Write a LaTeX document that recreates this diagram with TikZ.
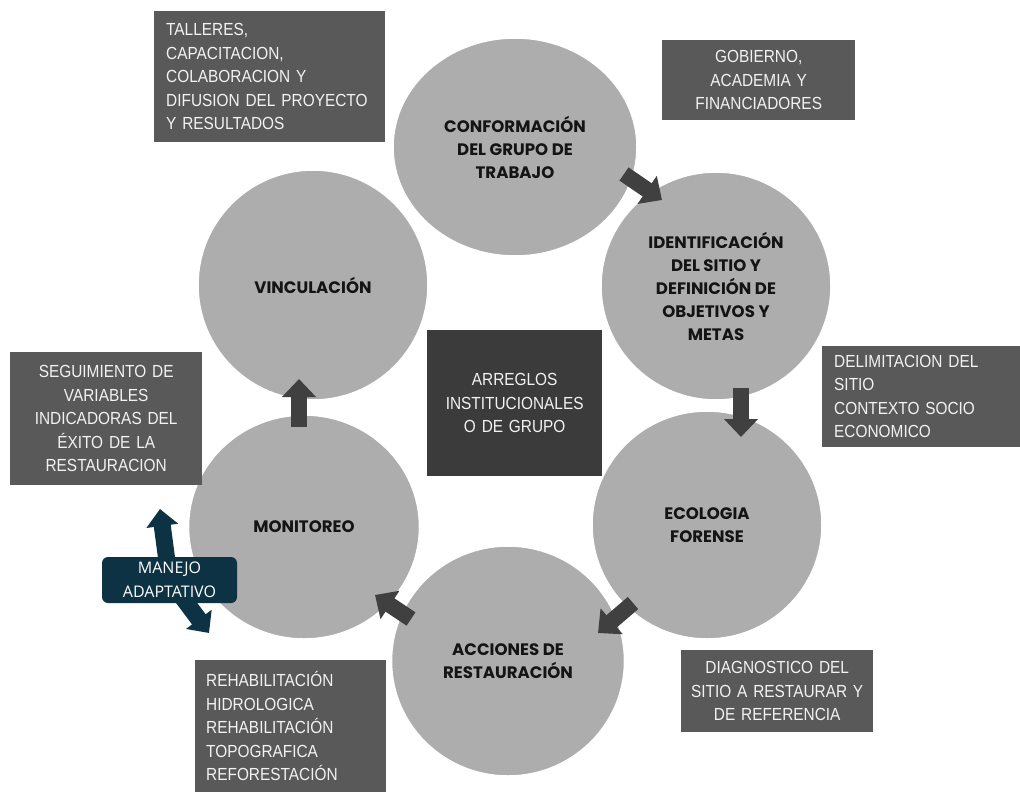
\documentclass[tikz,border=0pt]{standalone}
\usepackage{fontspec}
\setmainfont{Liberation Sans}[FakeStretch=0.88, WordSpace=0.7]
\newfontfamily\stagefont{Poppins}
\newfontfamily\adaptfont{Open Sans}
\usetikzlibrary{arrows.meta,shapes.geometric}

\definecolor{stagegray}{HTML}{ADADAD}
\definecolor{boxgray}{HTML}{595959}
\definecolor{coregray}{HTML}{3B3B3B}
\definecolor{flowgray}{HTML}{404040}
\definecolor{adaptteal}{HTML}{0D3243}
\definecolor{boxtext}{HTML}{F2F2F2}
\definecolor{stagetext}{HTML}{141414}

\tikzset{
  stage/.style={ellipse, fill=stagegray, draw=white, line width=1.5pt,
    inner sep=0pt, align=center, text=stagetext,
    font=\stagefont\bfseries\fontsize{16.6}{23}\selectfont},
  infobox/.style={rectangle, fill=boxgray, text=boxtext, inner ysep=0pt,
    font=\fontsize{17.5}{23.5}\selectfont},
  leftbox/.style={infobox, align=left, inner xsep=12pt},
  midbox/.style={infobox, align=center, inner xsep=4pt},
  flow/.style={draw=flowgray, line width=16pt,
    -{Triangle[width=33pt,length=18pt]}},
  adaptflow/.style={draw=adaptteal, line width=17pt,
    -{Triangle[width=31pt,length=17pt]}},
}

\begin{document}
\begin{tikzpicture}[x=1pt,y=-1pt]
\path[use as bounding box] (0,0) rectangle (1020,792);

% stages of the cycle
\node[stage, minimum width=244pt, minimum height=218pt] (c1) at (515,147)
  {CONFORMACIÓN\\DEL GRUPO DE\\TRABAJO};
\node[stage, minimum width=230pt, minimum height=228pt] (c2) at (716,286)
  {IDENTIFICACIÓN\\DEL SITIO Y\\DEFINICIÓN DE\\OBJETIVOS Y\\METAS};
\node[stage, minimum width=230pt, minimum height=228pt] (c3) at (707,525)
  {ECOLOGIA\\FORENSE};
\node[stage, minimum width=233pt, minimum height=230pt] (c4) at (508,661)
  {ACCIONES DE\\RESTAURACIÓN};
\node[stage, minimum width=231pt, minimum height=224pt] (c5) at (304,527)
  {MONITOREO};
\node[stage, minimum width=230pt, minimum height=230pt] (c6) at (313,285)
  {VINCULACIÓN};

% ends of the block arrows between stages
\coordinate (f12a) at (624,174); \coordinate (f12b) at (662,200);
\coordinate (f23a) at (741,388); \coordinate (f23b) at (741,437);
\coordinate (f34a) at (633,603); \coordinate (f34b) at (598,633);
\coordinate (f45a) at (411,619); \coordinate (f45b) at (375,595);
\coordinate (f56a) at (299,427); \coordinate (f56b) at (299,379);

\draw[flow] (f12a) -- (f12b);
\draw[flow] (f23a) -- (f23b);
\draw[flow] (f34a) -- (f34b);
\draw[flow] (f45a) -- (f45b);
\draw[flow] (f56a) -- (f56b);

% adaptive management arrows, behind their label
\coordinate (adaptmid) at (169.5,580);
\coordinate (adaptup) at (160,509);
\coordinate (adaptdown) at (209,633);
\draw[adaptflow] (adaptmid) -- (adaptup);
\draw[adaptflow] (adaptmid) -- (adaptdown);

% description boxes
\node[leftbox, text width=207pt, minimum height=131pt, anchor=north west]
  (talleres) at (154,11)
  {TALLERES,\\CAPACITACION,\\COLABORACION Y\\DIFUSION DEL PROYECTO\\Y RESULTADOS};
\node[midbox, text width=185pt, minimum height=80pt, anchor=north west]
  (gobierno) at (662,40)
  {GOBIERNO,\\ACADEMIA Y\\FINANCIADORES};
\node[midbox, fill=coregray, text width=167pt, minimum height=146pt, anchor=north west]
  (arreglos) at (427,330)
  {ARREGLOS\\INSTITUCIONALES\\O DE GRUPO};
\node[leftbox, text width=174pt, minimum height=101pt, anchor=north west]
  (delimitacion) at (822,346)
  {DELIMITACION DEL\\SITIO\\CONTEXTO SOCIO\\ECONOMICO};
\node[midbox, text width=184pt, minimum height=133pt, anchor=north west]
  (seguimiento) at (10,352)
  {SEGUIMIENTO DE\\VARIABLES\\INDICADORAS DEL\\ÉXITO DE LA\\RESTAURACION};
\node[midbox, text width=184pt, minimum height=82pt, anchor=north west]
  (diagnostico) at (681,650)
  {DIAGNOSTICO DEL\\SITIO A RESTAURAR Y\\DE REFERENCIA};
\node[leftbox, inner xsep=11pt, text width=169pt, minimum height=132pt, anchor=north west]
  (rehabilitacion) at (195,660)
  {REHABILITACIÓN\\HIDROLOGICA\\REHABILITACIÓN\\TOPOGRAFICA\\REFORESTACIÓN};

% adaptive management label
\node[rectangle, rounded corners=6pt, fill=adaptteal, text=white, align=center,
  inner sep=0pt, minimum width=135pt, minimum height=46pt,
  font=\adaptfont\fontsize{16}{24}\selectfont] (manejo) at (169.5,580)
  {MANEJO\\ADAPTATIVO};
\end{tikzpicture}
\end{document}
